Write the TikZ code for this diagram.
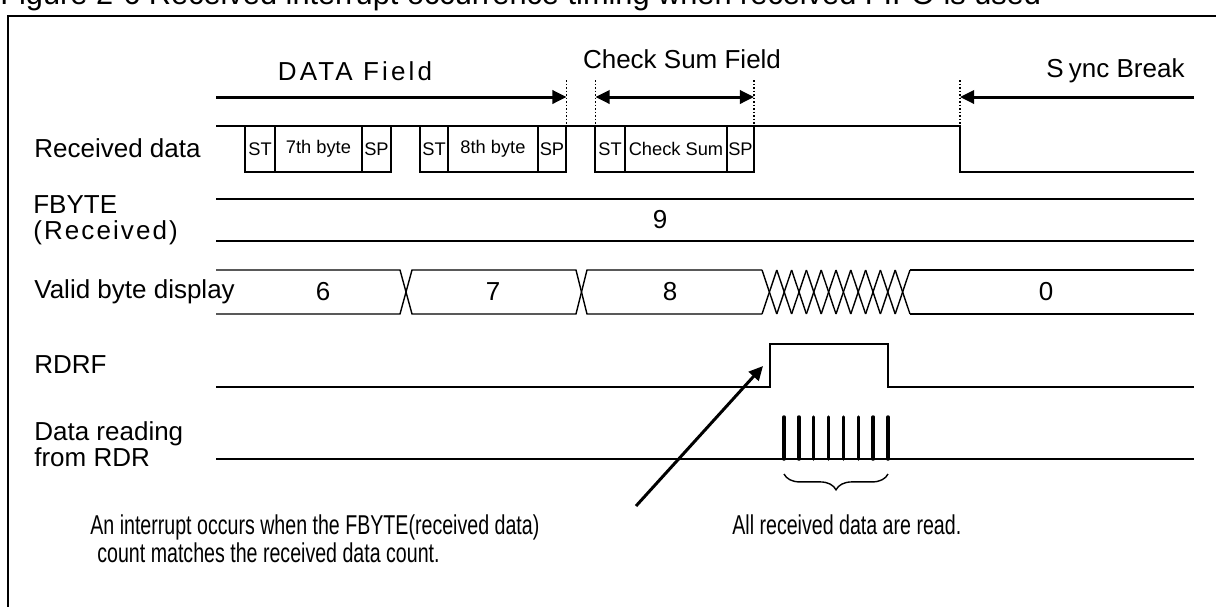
\documentclass[tikz,border=0pt]{standalone}
\usepackage{fontspec}
\setmainfont{Liberation Sans}
\newfontfamily\narrowfont[FakeStretch=0.72]{Liberation Sans}
\usetikzlibrary{arrows.meta,positioning,decorations.pathreplacing}
\tikzset{
 sig/.style={line width=0.8pt,draw=black},
 lbl/.style={font=\fontsize{14.8}{14.7}\selectfont,inner sep=0pt,anchor=west,align=left},
 val/.style={font=\fontsize{14.8}{17}\selectfont,inner sep=0pt},
 field/.style={font=\fontsize{14.8}{17}\selectfont,inner sep=0pt},
 cell/.style={draw,line width=0.7pt,inner sep=0pt,outer sep=0pt,minimum height=0.92cm,font=\fontsize{10.4}{12}\selectfont},
 note/.style={font=\narrowfont\fontsize{15.5}{16}\selectfont,inner sep=0pt,anchor=west,align=left},
 arrow/.style={-{Triangle[length=8pt,width=7.5pt]},line width=1.7pt},
 fieldmark/.style={line width=0.8pt,dash pattern=on 1pt off 1pt},
 readbar/.style={line width=2pt,line cap=round},
 readbrace/.style={decorate,decoration={brace,mirror,amplitude=9pt},line width=0.8pt}}
\begin{document}
\begin{tikzpicture}[x=0.02cm,y=-0.02cm]
\useasboundingbox (0,0) rectangle (1216,606);
\clip (0,0) rectangle (1216,606);
\node[inner sep=0pt,anchor=base west,font=\fontsize{17.5}{20}\selectfont] (title) at (0,4) {Figure 2-6 Received interrupt occurrence timing when received FIFO is used};
\draw[line width=1.4pt] (8,16) rectangle (1240,640);
\coordinate (dataL) at (216,97); \coordinate (dataR) at (566.5,97);
\coordinate (sumL) at (595.5,97); \coordinate (sumR) at (754,97);
\coordinate (brkL) at (960,97); \coordinate (brkR) at (1194,97);
\node[field] (datafld) at (355,71) {\addfontfeatures{LetterSpace=12}DATA Field};
\node[field] (sumfld) at (682,59) {Check Sum Field};
\node[field,anchor=west] (syncfld) at (1046,71) {S\hspace{3pt}ync Break};
\draw[arrow] (dataL) -- (dataR);
\draw[arrow,{Triangle[length=8pt,width=7.5pt]}-{Triangle[length=8pt,width=7.5pt]}] (sumL) -- (sumR);
\draw[arrow] (brkR) -- (brkL);
\foreach \x in {566.5,595.5,754,960} \draw[fieldmark] (\x,80) -- (\x,126);
\node[lbl] (rxlbl) at (34,148) {Received data};
\node[lbl] (fbytelbl) at (33,220) {FBYTE\\{\addfontfeatures{LetterSpace=8}(Received)}};
\node[lbl] (validlbl) at (34,292) {Valid byte display};
\node[lbl] (rdrflbl) at (34,365) {RDRF};
\node[lbl] (readlbl) at (34,444) {Data reading\\from RDR};
\node[cell,minimum width=0.6cm,anchor=north west] (st1) at (245,126) {ST};
\node[cell,minimum width=1.74cm,right=0pt of st1] (byte7) {7th byte};
\node[cell,minimum width=0.58cm,right=0pt of byte7] (sp1) {SP};
\node[cell,minimum width=0.56cm,anchor=north west] (st2) at (420,126) {ST};
\node[cell,minimum width=1.8cm,right=0pt of st2] (byte8) {8th byte};
\node[cell,minimum width=0.56cm,right=0pt of byte8] (sp2) {SP};
\node[cell,minimum width=0.6cm,anchor=north west] (st3) at (595,126) {ST};
\node[cell,minimum width=2.04cm,right=0pt of st3] (csum) {Check Sum};
\node[cell,minimum width=0.54cm,right=0pt of csum] (sp3) {SP};
\draw[sig] (216,126) -- (960,126) -- (960,172) -- (1194,172);
\draw[sig] (216,199) -- (1194,199); \draw[sig] (216,241) -- (1194,241);
\node[val] (fbyteval) at (660,220) {9};
\draw[sig] (216,270) -- (400,270) -- (412,314) -- (576,314) -- (587,270) -- (762,270);
\draw[sig] (216,314) -- (400,314) -- (412,270) -- (576,270) -- (587,314) -- (762,314);
\foreach \k in {0,...,9} {
 \draw[sig] (762+\k*14.8,270) -- (776.8+\k*14.8,314);
 \draw[sig] (762+\k*14.8,314) -- (776.8+\k*14.8,270);}
\draw[sig] (910,270) -- (1194,270); \draw[sig] (910,314) -- (1194,314);
\node[val] (valid6) at (323,292) {6};
\node[val] (valid7) at (493,292) {7};
\node[val] (valid8) at (670,292) {8};
\node[val] (valid0) at (1046,292) {0};
\draw[sig] (216,387) -- (770,387) -- (770,344) -- (888,344) -- (888,387) -- (1194,387);
\draw[sig] (216,459) -- (1194,459);
\foreach \k in {0,...,7} \draw[readbar] (784+\k*14.86,417) -- (784+\k*14.86,459);
\coordinate (braceL) at (784,474); \coordinate (braceR) at (888,474);
\draw[readbrace] (braceL) -- (braceR);
\node[note] (irqnote) at (90,539) {An interrupt occurs when the FBYTE(received data)\\\hspace{4pt}count matches the received data count.};
\node[note] (readnote) at (732,525) {All received data are read.};
\coordinate (irqtail) at (636,506); \coordinate (irqhead) at (763,366);
\draw[arrow] (irqtail) -- (irqhead);
\end{tikzpicture}
\end{document}
